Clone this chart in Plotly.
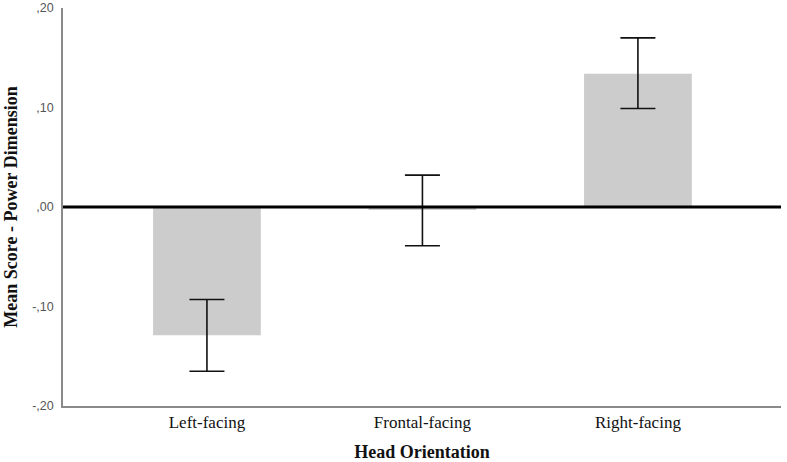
import plotly.graph_objects as go

categories = ["Left-facing", "Frontal-facing", "Right-facing"]
means = [-0.129, -0.003, 0.134]
err_plus = [0.036, 0.035, 0.036]
err_minus = [0.036, 0.036, 0.035]
tick_vals = [-0.20, -0.10, 0.00, 0.10, 0.20]
tick_text = ["-,20", "-,10", ",00", ",10", ",20"]

fig = go.Figure()
fig.add_trace(go.Bar(
    x=categories, y=means, width=0.5,
    marker=dict(color="#cccccc", line=dict(width=0)),
    error_y=dict(type="data", symmetric=False, array=err_plus, arrayminus=err_minus,
                 color="#111111", thickness=1.6, width=17.5),
))

fig.add_shape(type="line", xref="paper", yref="y", x0=0, x1=1, y0=0, y1=0,
              line=dict(color="black", width=3))

fig.update_layout(
    width=787, height=462,
    margin=dict(l=63, r=6, t=8, b=56),
    paper_bgcolor="white", plot_bgcolor="white",
    showlegend=False,
    bargap=0.5,
    xaxis=dict(
        range=[-0.668, 2.664], showgrid=False, zeroline=False, automargin=False,
        showline=True, linecolor="#8a8a8a", linewidth=1.5, ticks="",
        ticklabelstandoff=0,
        tickfont=dict(family="Liberation Serif", size=17, color="#111111"),
        title=dict(text="<b>Head Orientation</b>", standoff=14,
                   font=dict(family="Liberation Serif", size=18, color="#111111")),
    ),
    yaxis=dict(
        range=[-0.2, 0.2], tickvals=tick_vals, ticktext=tick_text,
        showgrid=False, zeroline=False, automargin=False,
        showline=True, linecolor="#8a8a8a", linewidth=1.5, ticks="",
        ticklabelstandoff=5,
        tickfont=dict(family="Liberation Sans", size=12.5, color="#555555"),
        title=dict(text="<b>Mean Score - Power Dimension</b>", standoff=10,
                   font=dict(family="Liberation Serif", size=18, color="#111111")),
    ),
)

fig.write_html("out.html", config={"displayModeBar": False},
               post_script="document.body.style.margin='0';")
